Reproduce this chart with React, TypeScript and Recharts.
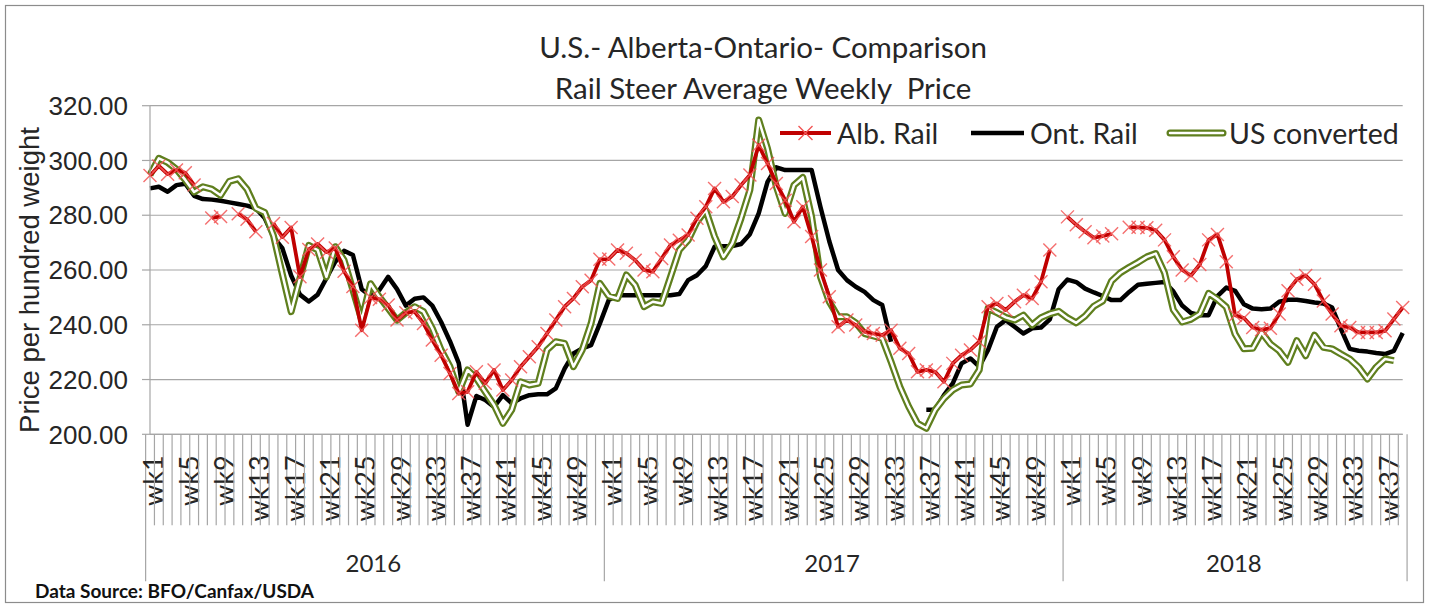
import React from 'react';
import { LineChart, Line, XAxis, YAxis, CartesianGrid } from 'recharts';

// ---------- data ----------
const years = [2016, 2017, 2018];
const weekCounts = [52, 52, 39];

const alb2016 = [294.5, 298, 295, 296.5, 295.5, 291, null, 279, 279.5, null, 280.5, 278.5, 274, null, 277, 272, 275.5, 257.5, 267.5, 269.5, 266.5, 268, 259.5, 254, 238, 250, 249.3, 247.2, 241.7, 244.4, 244.8, 240.5, 234.4, 228.9, 222.2, 214.9, 215.5, 222.8, 218.6, 223.5, 216.2, 219.8, 224.7, 228.3, 232, 236.8, 241.7, 246.6, 249.6, 253.9, 256.3, 263.9];
const alb2017 = [264, 267.3, 266.1, 263.6, 260, 259.4, 264.2, 269.1, 270.9, 272.8, 278.9, 283.1, 289.8, 284.9, 286.8, 291, 294.7, 305.6, 298.9, 291.6, 285.5, 277.6, 283.1, 272.2, 260, 250.2, 239.3, 241.7, 239.9, 237.5, 236.8, 236.2, 238, 231.4, 229.5, 222.8, 223.5, 222.8, 219.2, 225.9, 228.9, 230.8, 233.8, 246.6, 247.8, 245.4, 248.4, 250.8, 249.6, 255.7, 267.3, null];
const alb2018 = [279.4, 276.5, 274, 271.8, 272.4, 273.2, null, 275.6, 275.6, 275.4, 274.5, 271, 264.8, 260, 258, 262, 271, 273, 263, 243.5, 242.5, 239, 238.2, 238.7, 243.9, 252.4, 256.6, 258, 254.8, 248.7, 243.9, 239.6, 239, 237.2, 237.2, 237.2, 237.8, 242.1, 246.3];

const ont2016 = [289.8, 290.4, 288.6, 291, 291.5, 287.1, 285.9, 285.7, 285.3, 284.7, 284.1, 283.5, 282.5, 279, 272, 268, 258, 251, 248.5, 251, 257, 263, 267, 265.5, 253, 250.5, 252.7, 257.5, 253, 247, 249.5, 250, 247, 241, 234, 226, 203.5, 214, 212.5, 210, 214.3, 211.3, 213.1, 214.3, 214.6, 214.6, 216.8, 224, 229.5, 231.4, 232.6, 240.5];
const ont2017 = [249, 250.8, 250.8, 250.8, 250.8, 250.8, 250.8, 250.8, 251.2, 256.3, 258.1, 261.4, 268.5, 268.7, 268.7, 269.5, 273.1, 280.7, 292.2, 297.5, 296.5, 296.5, 296.5, 296.5, 283, 270.5, 260, 256.3, 253.9, 252, 249, 247.2, 233.8, null, null, null, 209, 209, 214.3, 218.6, 225.9, 227.7, 224.7, 230.8, 239.3, 241.7, 239.3, 236.8, 238.7, 239, 242, 253];
const ont2018 = [256.5, 255.6, 253.2, 251.8, 250.5, 249, 249, 252, 254.6, 255, 255.3, 255.6, 252.2, 247, 244.3, 243.5, 243.5, 250.5, 253.6, 252.4, 247.5, 245.9, 245.7, 245.9, 248.4, 249.1, 249.1, 248.7, 248.1, 247.8, 246.3, 238.4, 231.2, 230.5, 230.2, 229.7, 229.3, 230.5, 237];

const us2016 = [294.7, 300.8, 299.3, 296.8, 292.9, 288.5, 290.4, 289.5, 287.3, 292.4, 293.3, 289.5, 282.5, 281, 272.5, 258.5, 244.8, 257, 269, 267.3, 257.5, 268.5, 263.6, 252.7, 241.7, 255, 250.2, 246, 241.7, 244.4, 246.6, 244.8, 238.7, 230.8, 224.7, 215.5, 223.5, 220.4, 215.5, 210.7, 204, 208.9, 219.2, 218, 218.6, 230.8, 233.8, 233.2, 224.7, 230.8, 240.5, 255.1];
const us2017 = [250.5, 249.6, 258.2, 254.5, 246.6, 248.4, 247.8, 257.5, 267.3, 270.9, 277.6, 281.9, 272.2, 264.8, 269.7, 278.9, 289.2, 314.8, 304.4, 290.4, 280.7, 291, 293.8, 279.4, 257.5, 248.4, 242.9, 242.9, 240.7, 236.8, 235.9, 235, 226.5, 217.4, 210.1, 204, 202.2, 208.9, 213.1, 216.2, 218, 218.4, 223.5, 246, 244.4, 242.7, 241.7, 243.5, 239.9, 242.6, 244, 244.9];
const us2018 = [242.5, 240.7, 243.2, 246.8, 248.7, 256, 259, 261, 262.8, 264.8, 266, 259, 245.5, 241, 242, 244, 251.5, 249.3, 246.5, 236.6, 231.2, 231.4, 237.2, 233, 230.5, 226.3, 234.2, 228.7, 236.2, 231.8, 231.2, 229.3, 227.5, 224.5, 220.2, 224.5, 227.5, 226.9, null];

const yTicks = [200, 220, 240, 260, 280, 300, 320];
const seriesNames = ['Alb. Rail', 'Ont. Rail', 'US converted'];

// ---------- table built from the arrays ----------
const albByYear = [alb2016, alb2017, alb2018];
const ontByYear = [ont2016, ont2017, ont2018];
const usByYear = [us2016, us2017, us2018];

type Row = { key: string; year: number; week: number; alb: number | null; ont: number | null; us: number | null };
const data: Row[] = [];
years.forEach((yr, k) => {
  for (let w = 1; w <= weekCounts[k]; w++) {
    data.push({
      key: `${yr}-wk${w}`,
      year: yr,
      week: w,
      alb: albByYear[k][w - 1] ?? null,
      ont: ontByYear[k][w - 1] ?? null,
      us: usByYear[k][w - 1] ?? null,
    });
  }
});
const keyIndex = new Map(data.map((d, i) => [d.key, i]));

// ---------- layout ----------
const W = 1429;
const H = 605;
const PLOT_LEFT = 150;
const PLOT_RIGHT = 1402.7;
const PLOT_TOP = 105.7;
const PLOT_BOTTOM = 434.3;
const STEP = (PLOT_RIGHT - PLOT_LEFT) / data.length;

const AXIS = '#A6A6A6';
const TEXT = '#262626';
const RED = '#C00000';
const MARK = '#F25555';
const GREEN = '#5F7F1E';
const FONT = 'Lato, "Open Sans", sans-serif';

const WeekTick = (props: any) => {
  const { x, y, payload } = props;
  const i = keyIndex.get(payload.value);
  if (i === undefined) return <g />;
  const d = data[i];
  const left = x - STEP / 2;
  const yearStart = d.week === 1;
  const SHORT = 91;
  const LONG = 147;
  const k = years.indexOf(d.year);
  return (
    <g>
      <line x1={left} x2={left} y1={y} y2={y + (yearStart ? LONG : SHORT)} stroke={AXIS} strokeWidth={1.2} />
      {i === data.length - 1 && (
        <line x1={x + STEP / 2} x2={x + STEP / 2} y1={y} y2={y + LONG} stroke={AXIS} strokeWidth={1.2} />
      )}
      {(d.week - 1) % 4 === 0 && (
        <text
          x={x + 3}
          y={y + 21}
          transform={`rotate(-90 ${x + 3} ${y + 21})`}
          textAnchor="end"
          dominantBaseline="central"
          fontFamily={FONT}
          fontSize={27}
          fill={TEXT}
        >
          {`wk${d.week}`}
        </text>
      )}
      {yearStart && (
        <text
          x={left + (weekCounts[k] * STEP) / 2}
          y={y + 128}
          textAnchor="middle"
          dominantBaseline="central"
          fontFamily={FONT}
          fontSize={24}
          fill={TEXT}
        >
          {d.year}
        </text>
      )}
    </g>
  );
};

const CrossDot = (props: any) => {
  const { cx, cy, index, value } = props;
  if (cx == null || cy == null || value == null || Number.isNaN(cy)) return <g key={`xd-${index}`} />;
  const r = 6.5;
  return (
    <path
      key={`xd-${index}`}
      d={`M${cx - r},${cy - r}L${cx + r},${cy + r}M${cx - r},${cy + r}L${cx + r},${cy - r}`}
      stroke={MARK}
      strokeWidth={1.4}
      strokeOpacity={0.85}
      fill="none"
    />
  );
};

const Overlay = () => {
  const ly = 133;
  return (
    <svg width={W} height={H} style={{ position: 'absolute', left: 0, top: 0, pointerEvents: 'none' }}>
      <rect x={5.5} y={5.5} width={1418} height={597} fill="none" stroke="#8C8C8C" strokeWidth={1.2} />
      <text x={763} y={46} textAnchor="middle" dominantBaseline="central" fontFamily={FONT} fontSize={29.5} fill={TEXT}>
        U.S.- Alberta-Ontario- Comparison
      </text>
      <text x={763} y={87} textAnchor="middle" dominantBaseline="central" fontFamily={FONT} fontSize={29.5} fill={TEXT} style={{ whiteSpace: 'pre' }}>
        {'Rail Steer Average Weekly  Price'}
      </text>
      <text
        x={29}
        y={280}
        transform="rotate(-90 29 280)"
        textAnchor="middle"
        dominantBaseline="central"
        fontFamily='"Liberation Sans", Arial, sans-serif'
        fontSize={27.5}
        fill={TEXT}
      >
        Price per hundred weight
      </text>
      {/* legend */}
      <line x1={780} x2={831} y1={ly} y2={ly} stroke={RED} strokeWidth={4} />
      <path d={`M${805.5 - 7},${ly - 7}L${805.5 + 7},${ly + 7}M${805.5 - 7},${ly + 7}L${805.5 + 7},${ly - 7}`} stroke={MARK} strokeWidth={1.4} />
      <text x={837} y={ly} dominantBaseline="central" fontFamily={FONT} fontSize={28.5} fill={TEXT}>{seriesNames[0]}</text>
      <line x1={971} x2={1024} y1={ly} y2={ly} stroke="#000" strokeWidth={4.5} />
      <text x={1030} y={ly} dominantBaseline="central" fontFamily={FONT} fontSize={28.5} fill={TEXT}>{seriesNames[1]}</text>
      <line x1={1170} x2={1223} y1={ly} y2={ly} stroke={GREEN} strokeWidth={7} strokeLinecap="round" />
      <line x1={1170} x2={1223} y1={ly} y2={ly} stroke="#fff" strokeWidth={2.5} strokeLinecap="round" />
      <text x={1229} y={ly} dominantBaseline="central" fontFamily={FONT} fontSize={28.5} fill={TEXT}>{seriesNames[2]}</text>
      <text x={35} y={590} dominantBaseline="central" fontFamily={FONT} fontWeight={700} fontSize={19} fill="#111">
        Data Source: BFO/Canfax/USDA
      </text>
    </svg>
  );
};

export default function App() {
  return (
    <div style={{ position: 'absolute', left: 0, top: 0, width: W, height: H, background: '#fff' }}>
      <LineChart
        width={W}
        height={H}
        data={data}
        margin={{ top: PLOT_TOP, right: W - PLOT_RIGHT, bottom: 0, left: 0 }}
      >
        <CartesianGrid vertical={false} stroke={AXIS} strokeWidth={1.2} />
        <XAxis
          dataKey="key"
          interval={0}
          tickLine={false}
          tickSize={0}
          tickMargin={0}
          height={H - PLOT_BOTTOM}
          axisLine={{ stroke: AXIS, strokeWidth: 1.2 }}
          tick={(p: any) => <WeekTick {...p} />}
        />
        <YAxis
          width={PLOT_LEFT}
          domain={[200, 320]}
          ticks={yTicks}
          interval={0}
          tickFormatter={(v: number) => v.toFixed(2)}
          tickSize={8}
          tickMargin={14}
          axisLine={{ stroke: AXIS, strokeWidth: 1.2 }}
          tickLine={{ stroke: AXIS, strokeWidth: 1.2 }}
          tick={{ fontFamily: '"Liberation Sans", Arial, sans-serif', fontSize: 26, fill: TEXT }}
        />
        <Line
          dataKey="ont"
          name={seriesNames[1]}
          stroke="#000"
          strokeWidth={4.5}
          strokeLinejoin="round"
          dot={false}
          activeDot={false}
          isAnimationActive={false}
        />
        <Line
          dataKey="us"
          name={seriesNames[2]}
          stroke={GREEN}
          strokeWidth={7}
          strokeLinejoin="round"
          dot={false}
          activeDot={false}
          isAnimationActive={false}
        />
        <Line
          dataKey="us"
          name="us-inner"
          legendType="none"
          stroke="#fff"
          strokeWidth={2.5}
          strokeLinejoin="round"
          dot={false}
          activeDot={false}
          isAnimationActive={false}
        />
        <Line
          dataKey="alb"
          name={seriesNames[0]}
          stroke={RED}
          strokeWidth={3.75}
          strokeLinejoin="round"
          dot={(p: any) => <CrossDot key={`xd-${p.index}`} {...p} />}
          activeDot={false}
          isAnimationActive={false}
        />
      </LineChart>
      <Overlay />
    </div>
  );
}
